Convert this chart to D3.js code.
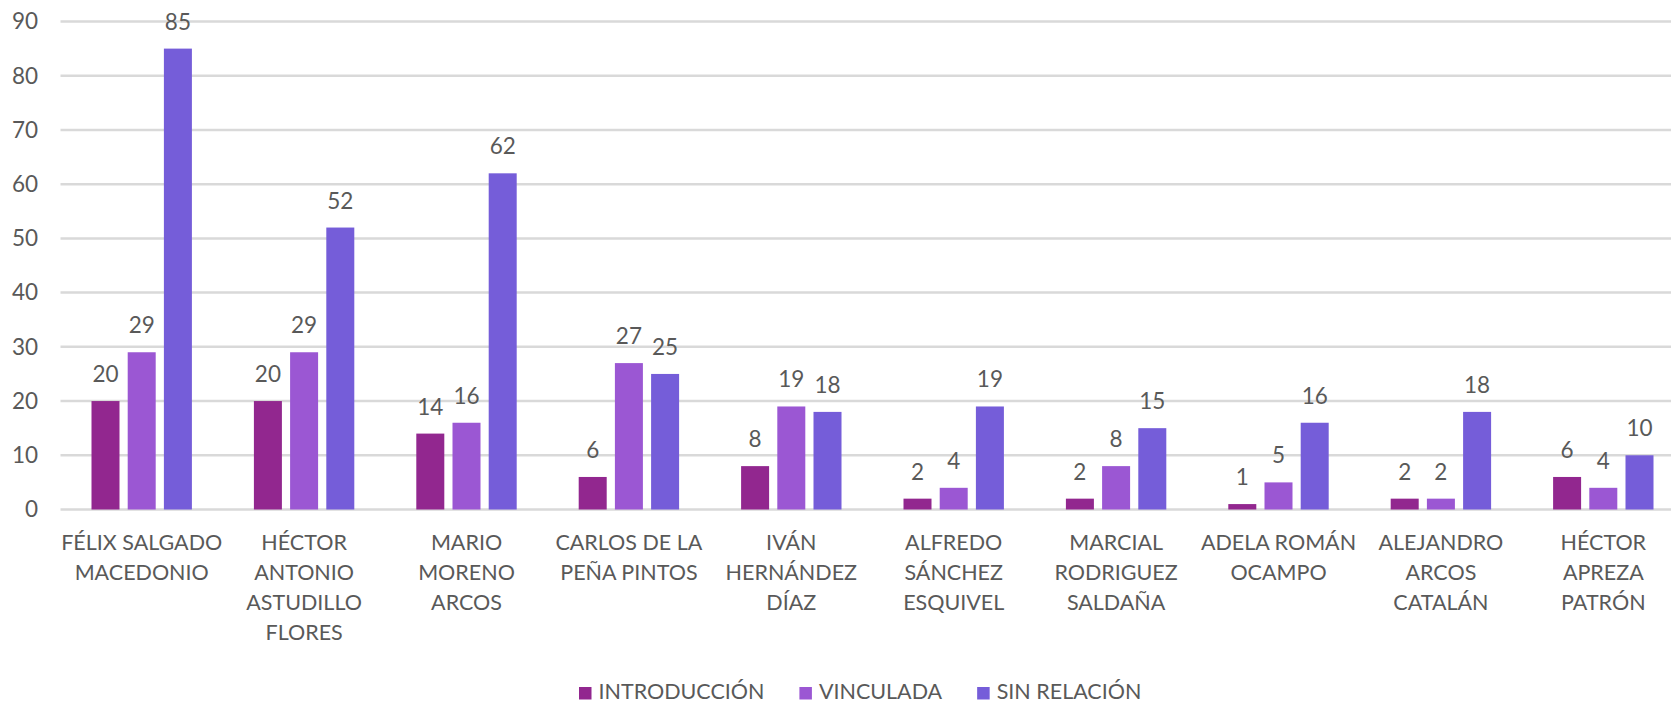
<!DOCTYPE html>
<html>
<head>
<meta charset="utf-8">
<script src="https://cdn.jsdelivr.net/npm/d3@7"></script>
<style>
  html, body { margin: 0; padding: 0; background: #ffffff; }
  svg { display: block; }
  text { font-family: Lato, "Noto Sans", sans-serif; fill: #595959; }
</style>
</head>
<body>
<svg id="chart" width="1671" height="703"></svg>
<script>
const categories = [
  ["FÉLIX SALGADO", "MACEDONIO"],
  ["HÉCTOR", "ANTONIO", "ASTUDILLO", "FLORES"],
  ["MARIO", "MORENO", "ARCOS"],
  ["CARLOS DE LA", "PEÑA PINTOS"],
  ["IVÁN", "HERNÁNDEZ", "DÍAZ"],
  ["ALFREDO", "SÁNCHEZ", "ESQUIVEL"],
  ["MARCIAL", "RODRIGUEZ", "SALDAÑA"],
  ["ADELA ROMÁN", "OCAMPO"],
  ["ALEJANDRO", "ARCOS", "CATALÁN"],
  ["HÉCTOR", "APREZA", "PATRÓN"]
];
const seriesNames = ["INTRODUCCIÓN", "VINCULADA", "SIN RELACIÓN"];
const introduccion = [20, 20, 14, 6, 8, 2, 2, 1, 2, 6];
const vinculada = [29, 29, 16, 27, 19, 4, 8, 5, 2, 4];
const sinRelacion = [85, 52, 62, 25, 18, 19, 15, 16, 18, 10];
const seriesColors = ["#92278F", "#9B57D3", "#755DD9"];
const yTicks = [0, 10, 20, 30, 40, 50, 60, 70, 80, 90];

const seriesValues = [introduccion, vinculada, sinRelacion];
const svg = d3.select("#chart");
const FS = 21.5;

const x0 = d3.scaleBand().domain(d3.range(categories.length)).range([60.5, 1684.5]).padding(0);
const groupW = 100.4;
const x1 = d3.scaleBand().domain(d3.range(seriesNames.length))
  .range([x0.bandwidth() / 2 - groupW / 2, x0.bandwidth() / 2 + groupW / 2])
  .paddingInner(0.2265).paddingOuter(0);
const y = d3.scaleLinear().domain([0, 90]).range([509.5, 21.5]);

// gridlines
svg.append("g").selectAll("line").data(yTicks).join("line")
  .attr("x1", 60.5).attr("x2", 1671)
  .attr("y1", d => y(d)).attr("y2", d => y(d))
  .attr("stroke", "#d9d9d9").attr("stroke-width", 2.5);

// y tick labels
svg.append("g").selectAll("text").data(yTicks).join("text")
  .attr("x", 38).attr("y", d => y(d)).attr("dy", "0.35em")
  .attr("text-anchor", "end").style("font-size", (FS + 1) + "px")
  .text(d => d);

// bars
const groups = svg.append("g").selectAll("g").data(categories).join("g")
  .attr("transform", (d, i) => `translate(${x0(i)},0)`);

groups.each(function(_, ci) {
  const g = d3.select(this);
  const vals = seriesValues.map((s, si) => ({ si, v: s[ci] }));
  g.selectAll("rect").data(vals).join("rect")
    .attr("x", d => x1(d.si)).attr("width", x1.bandwidth())
    .attr("y", d => y(d.v)).attr("height", d => y(0) - y(d.v))
    .attr("fill", d => seriesColors[d.si]);
  g.selectAll("text.val").data(vals).join("text").attr("class", "val")
    .attr("x", d => x1(d.si) + x1.bandwidth() / 2).attr("y", d => y(d.v) - 19)
    .attr("text-anchor", "middle").style("font-size", (FS + 1) + "px")
    .text(d => d.v);
});

// category labels
const catG = svg.append("g").selectAll("text").data(categories).join("text")
  .attr("text-anchor", "middle").style("font-size", FS + "px")
  .attr("transform", (d, i) => `translate(${x0(i) + x0.bandwidth() / 2},550)`);
catG.selectAll("tspan").data(d => d).join("tspan")
  .attr("x", 0).attr("y", (d, i) => i * 30).text(d => d);

// legend
const legend = svg.append("g");
const items = legend.selectAll("g").data(seriesNames).join("g");
items.append("rect").attr("width", 12.5).attr("height", 12.5).attr("y", 687)
  .attr("fill", (d, i) => seriesColors[i]);
items.append("text").attr("x", 19.5).attr("y", 699).style("font-size", FS + "px").text(d => d);
let pos = 0;
const offsets = [];
items.each(function() {
  offsets.push(pos);
  const w = d3.select(this).select("text").node().getComputedTextLength();
  pos += 19.5 + w + 35;
});
const startX = 579;
items.attr("transform", (d, i) => `translate(${startX + offsets[i]},0)`);
</script>
</body>
</html>
